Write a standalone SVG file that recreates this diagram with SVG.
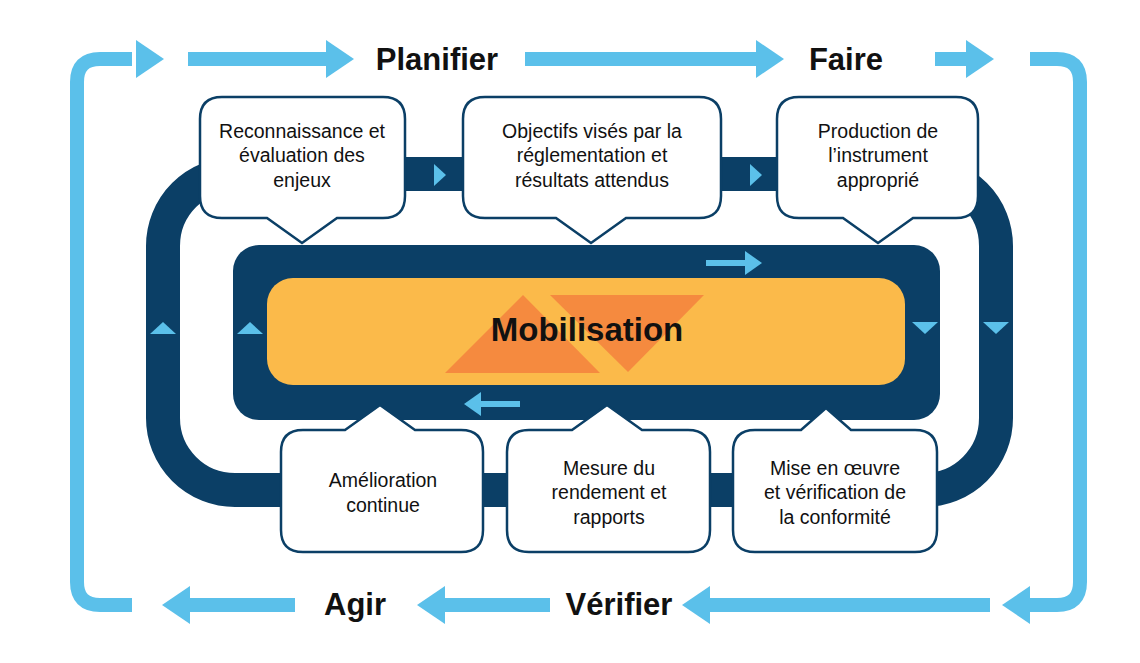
<svg xmlns="http://www.w3.org/2000/svg" width="1140" height="663" viewBox="0 0 1140 663">
<style>
.lb{fill:none;stroke:#5BC0EA;stroke-width:14}
.ah{fill:#5BC0EA}
.box{fill:#fff;stroke:#0B3F66;stroke-width:2.5}
.t{font-family:"Liberation Sans",Arial,sans-serif;font-size:19.5px;fill:#111;text-anchor:middle}
.h{font-family:"Liberation Sans",Arial,sans-serif;font-size:31px;font-weight:bold;fill:#111;text-anchor:middle}
</style>
<rect width="1140" height="663" fill="#fff"/>
<g id="connectors">
<path class="lb" d="M132 59 H100 Q77 59 77 82 V582 Q77 605 100 605 H132"/>
<path class="lb" d="M188 59 H330 M525 59 H760 M935 59 H970 M1030 59 H1057 Q1080 59 1080 82 V582 Q1080 605 1057 605 H1030 M990 605 H705 M550 605 H440 M295 605 H185"/>
<polygon class="ah" points="136,40 164,59 136,78"/>
<polygon class="ah" points="326,40 354,59 326,78"/>
<polygon class="ah" points="756,40 784,59 756,78"/>
<polygon class="ah" points="966,40 994,59 966,78"/>
<polygon class="ah" points="1030,586 1002,605 1030,624"/>
<polygon class="ah" points="710,586 682,605 710,624"/>
<polygon class="ah" points="445,586 417,605 445,624"/>
<polygon class="ah" points="190,586 162,605 190,624"/>
<rect x="163" y="174" width="833" height="316" rx="72" fill="none" stroke="#0B3F66" stroke-width="34"/>
<polygon class="ah" points="434,164 446,175 434,186"/>
<polygon class="ah" points="750,164 762,175 750,186"/>
<polygon class="ah" points="150,334 163,322 176,334"/>
<polygon class="ah" points="983,322 1009,322 996,334"/>
</g>
<g id="mobilisation">
<rect x="233" y="245" width="707" height="175" rx="26" fill="#0B3F66"/>
<rect x="267" y="278" width="638" height="107" rx="26" fill="#FBBA4A"/>
<polygon points="445,373 523,295 600,373" fill="#F58A3F"/>
<polygon points="550,295 704,295 628,372" fill="#F58A3F"/>
<text class="h" x="587" y="341" style="font-size:33px">Mobilisation</text>
<polygon class="ah" points="237,334 250,322 263,334"/>
<polygon class="ah" points="912,322 938,322 925,334"/>
<path d="M706 263 H748" stroke="#5BC0EA" stroke-width="6"/>
<polygon class="ah" points="745,251 762,263 745,275"/>
<path d="M520 404 H478" stroke="#5BC0EA" stroke-width="6"/>
<polygon class="ah" points="481,392 464,404 481,416"/>
</g>
<g id="n1"><path class="box" d="M222 97 H383 Q405 97 405 119 V196 Q405 218 383 218 H337 L302 243 L267 218 H222 Q200 218 200 196 V119 Q200 97 222 97 Z"/>
<text class="t" x="302" y="138">Reconnaissance et</text><text class="t" x="302" y="162">évaluation des</text><text class="t" x="302" y="187">enjeux</text></g>
<g id="n2"><path class="box" d="M485 97 H699 Q721 97 721 119 V196 Q721 218 699 218 H626 L591 243 L556 218 H485 Q463 218 463 196 V119 Q463 97 485 97 Z"/>
<text class="t" x="592" y="138">Objectifs visés par la</text><text class="t" x="592" y="162">réglementation et</text><text class="t" x="592" y="187">résultats attendus</text></g>
<g id="n3"><path class="box" d="M799 97 H956 Q978 97 978 119 V196 Q978 218 956 218 H913 L878 243 L843 218 H799 Q777 218 777 196 V119 Q777 97 799 97 Z"/>
<text class="t" x="878" y="138">Production de</text><text class="t" x="878" y="162">l’instrument</text><text class="t" x="878" y="187">approprié</text></g>
<g id="n4"><path class="box" d="M303 430 H345 L380 405 L415 430 H461 Q483 430 483 452 V530 Q483 552 461 552 H303 Q281 552 281 530 V452 Q281 430 303 430 Z"/>
<text class="t" x="383" y="487">Amélioration</text><text class="t" x="383" y="512">continue</text></g>
<g id="n5"><path class="box" d="M529 430 H572 L607 405 L642 430 H688 Q710 430 710 452 V530 Q710 552 688 552 H529 Q507 552 507 530 V452 Q507 430 529 430 Z"/>
<text class="t" x="609" y="475">Mesure du</text><text class="t" x="609" y="499">rendement et</text><text class="t" x="609" y="524">rapports</text></g>
<g id="n6"><path class="box" d="M755 430 H801 L826 408 L851 430 H915 Q937 430 937 452 V530 Q937 552 915 552 H755 Q733 552 733 530 V452 Q733 430 755 430 Z"/>
<text class="t" x="835" y="475">Mise en œuvre</text><text class="t" x="835" y="499">et vérification de</text><text class="t" x="835" y="524">la conformité</text></g>
<g id="labels">
<text class="h" x="437" y="70">Planifier</text>
<text class="h" x="846" y="70">Faire</text>
<text class="h" x="619" y="615">Vérifier</text>
<text class="h" x="355" y="615">Agir</text>
</g>
</svg>
